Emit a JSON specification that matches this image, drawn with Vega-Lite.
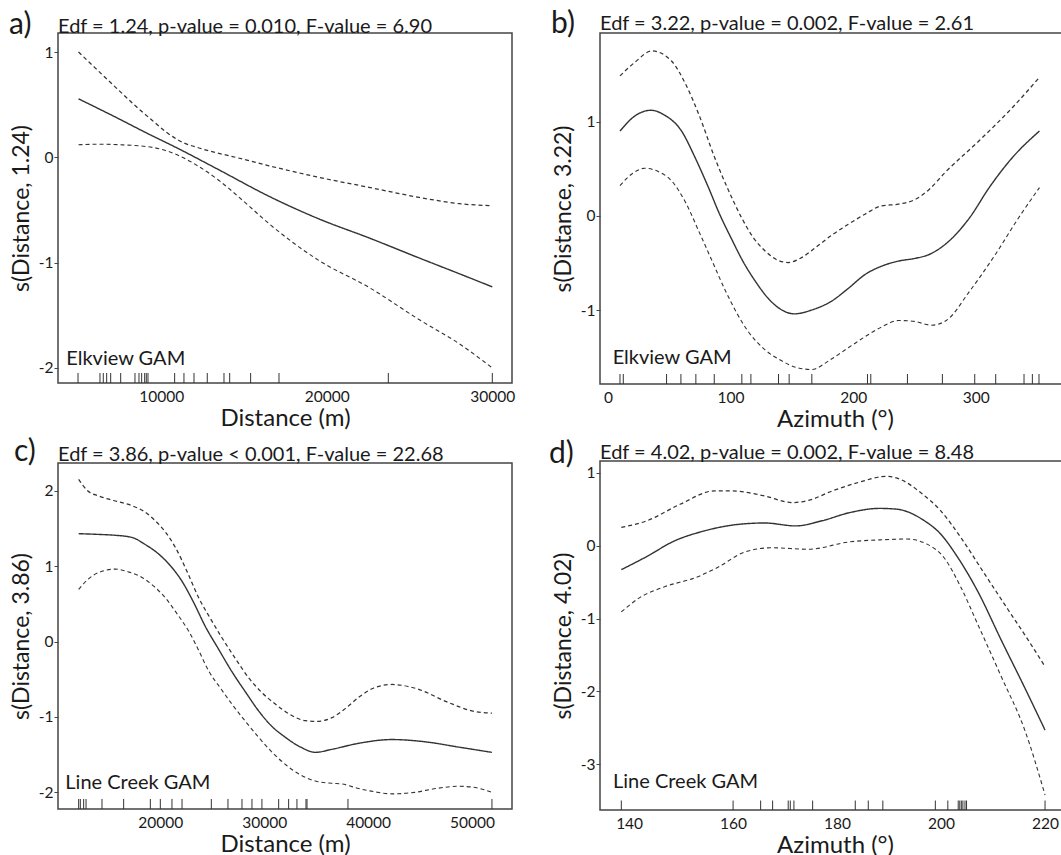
{
  "$schema": "https://vega.github.io/schema/vega-lite/v6.json",
  "padding": {"left": 8, "top": 8, "right": 0, "bottom": 0},
  "background": "white",
  "config": {
    "font": "Lato",
    "view": {"stroke": "#444", "strokeWidth": 1.5},
    "axisY": {"tickSize": 4, "tickColor": "#444", "labelPadding": 1, "labelFontSize": 15.5, "titleFontSize": 23, "titlePadding": 5, "domain": false, "grid": false, "titleFontWeight": "normal", "labelColor": "#1a1a1a", "titleColor": "#1a1a1a", "labelExpr": "toString(datum.value)"},
    "axisX": {"ticks": false, "labelPadding": 6, "labelFontSize": 15.5, "titleFontSize": 24, "titlePadding": 2, "domain": false, "grid": false, "titleFontWeight": "normal", "labelColor": "#1a1a1a", "titleColor": "#1a1a1a", "labelExpr": "toString(datum.value)"},
    "text": {"color": "#1a1a1a"}
  },
  "datasets": {
    "a_curves": [
      {"x": 5000, "y": 0.556, "s": "fit"}, {"x": 7450, "y": 0.365, "s": "fit"}, {"x": 9000, "y": 0.24, "s": "fit"}, {"x": 11070, "y": 0.08, "s": "fit"}, {"x": 13500, "y": -0.12, "s": "fit"}, {"x": 16510, "y": -0.37, "s": "fit"}, {"x": 19530, "y": -0.585, "s": "fit"}, {"x": 22550, "y": -0.765, "s": "fit"}, {"x": 25570, "y": -0.955, "s": "fit"}, {"x": 28000, "y": -1.105, "s": "fit"}, {"x": 30000, "y": -1.23, "s": "fit"},
      {"x": 5000, "y": 1.0, "s": "upper"}, {"x": 6000, "y": 0.85, "s": "upper"}, {"x": 7450, "y": 0.634, "s": "upper"}, {"x": 8500, "y": 0.48, "s": "upper"}, {"x": 9460, "y": 0.35, "s": "upper"}, {"x": 10300, "y": 0.24, "s": "upper"}, {"x": 11070, "y": 0.16, "s": "upper"}, {"x": 12480, "y": 0.08, "s": "upper"}, {"x": 14500, "y": 0.0, "s": "upper"}, {"x": 16510, "y": -0.08, "s": "upper"}, {"x": 19530, "y": -0.19, "s": "upper"}, {"x": 22550, "y": -0.285, "s": "upper"}, {"x": 25570, "y": -0.38, "s": "upper"}, {"x": 28000, "y": -0.44, "s": "upper"}, {"x": 30000, "y": -0.46, "s": "upper"},
      {"x": 5000, "y": 0.12, "s": "lower"}, {"x": 6500, "y": 0.125, "s": "lower"}, {"x": 7450, "y": 0.12, "s": "lower"}, {"x": 9460, "y": 0.095, "s": "lower"}, {"x": 11070, "y": 0.016, "s": "lower"}, {"x": 12300, "y": -0.09, "s": "lower"}, {"x": 13490, "y": -0.22, "s": "lower"}, {"x": 15000, "y": -0.42, "s": "lower"}, {"x": 16510, "y": -0.63, "s": "lower"}, {"x": 19530, "y": -0.98, "s": "lower"}, {"x": 22550, "y": -1.235, "s": "lower"}, {"x": 25570, "y": -1.54, "s": "lower"}, {"x": 28000, "y": -1.77, "s": "lower"}, {"x": 30000, "y": -2.0, "s": "lower"}
    ],
    "a_rug": [{"x": 4970}, {"x": 6296}, {"x": 6496}, {"x": 6700}, {"x": 6943}, {"x": 7547}, {"x": 8411}, {"x": 8653}, {"x": 8815}, {"x": 8996}, {"x": 9094}, {"x": 9196}, {"x": 10808}, {"x": 11370}, {"x": 11976}, {"x": 12779}, {"x": 13789}, {"x": 14133}, {"x": 15399}, {"x": 17112}, {"x": 23717}, {"x": 30000}],
    "b_curves": [
      {"x": 9.8, "y": 0.9, "s": "fit"}, {"x": 22, "y": 1.06, "s": "fit"}, {"x": 35, "y": 1.12, "s": "fit"}, {"x": 46, "y": 1.07, "s": "fit"}, {"x": 60, "y": 0.9, "s": "fit"}, {"x": 71, "y": 0.62, "s": "fit"}, {"x": 82, "y": 0.3, "s": "fit"}, {"x": 91, "y": 0.02, "s": "fit"}, {"x": 101, "y": -0.25, "s": "fit"}, {"x": 110, "y": -0.48, "s": "fit"}, {"x": 120, "y": -0.69, "s": "fit"}, {"x": 131, "y": -0.88, "s": "fit"}, {"x": 142, "y": -1.0, "s": "fit"}, {"x": 152, "y": -1.04, "s": "fit"}, {"x": 166, "y": -1.0, "s": "fit"}, {"x": 183, "y": -0.9, "s": "fit"}, {"x": 196, "y": -0.77, "s": "fit"}, {"x": 210, "y": -0.62, "s": "fit"}, {"x": 224, "y": -0.53, "s": "fit"}, {"x": 237, "y": -0.48, "s": "fit"}, {"x": 251, "y": -0.45, "s": "fit"}, {"x": 262, "y": -0.41, "s": "fit"}, {"x": 278, "y": -0.27, "s": "fit"}, {"x": 295, "y": -0.02, "s": "fit"}, {"x": 311, "y": 0.3, "s": "fit"}, {"x": 330, "y": 0.62, "s": "fit"}, {"x": 352, "y": 0.9, "s": "fit"},
      {"x": 9.8, "y": 1.485, "s": "upper"}, {"x": 22, "y": 1.63, "s": "upper"}, {"x": 36, "y": 1.75, "s": "upper"}, {"x": 52, "y": 1.64, "s": "upper"}, {"x": 64, "y": 1.38, "s": "upper"}, {"x": 74, "y": 1.08, "s": "upper"}, {"x": 87, "y": 0.62, "s": "upper"}, {"x": 98, "y": 0.28, "s": "upper"}, {"x": 109, "y": -0.02, "s": "upper"}, {"x": 118, "y": -0.22, "s": "upper"}, {"x": 128, "y": -0.37, "s": "upper"}, {"x": 137, "y": -0.46, "s": "upper"}, {"x": 147, "y": -0.495, "s": "upper"}, {"x": 157, "y": -0.45, "s": "upper"}, {"x": 169, "y": -0.34, "s": "upper"}, {"x": 182, "y": -0.21, "s": "upper"}, {"x": 196, "y": -0.09, "s": "upper"}, {"x": 210, "y": 0.02, "s": "upper"}, {"x": 223, "y": 0.106, "s": "upper"}, {"x": 237, "y": 0.124, "s": "upper"}, {"x": 250, "y": 0.17, "s": "upper"}, {"x": 262, "y": 0.28, "s": "upper"}, {"x": 275, "y": 0.46, "s": "upper"}, {"x": 303, "y": 0.8, "s": "upper"}, {"x": 330, "y": 1.15, "s": "upper"}, {"x": 352, "y": 1.47, "s": "upper"},
      {"x": 9.8, "y": 0.32, "s": "lower"}, {"x": 20, "y": 0.45, "s": "lower"}, {"x": 30, "y": 0.505, "s": "lower"}, {"x": 41, "y": 0.47, "s": "lower"}, {"x": 52, "y": 0.37, "s": "lower"}, {"x": 63, "y": 0.15, "s": "lower"}, {"x": 74, "y": -0.16, "s": "lower"}, {"x": 85, "y": -0.48, "s": "lower"}, {"x": 96, "y": -0.8, "s": "lower"}, {"x": 114, "y": -1.22, "s": "lower"}, {"x": 128, "y": -1.42, "s": "lower"}, {"x": 142, "y": -1.54, "s": "lower"}, {"x": 154, "y": -1.61, "s": "lower"}, {"x": 166, "y": -1.63, "s": "lower"}, {"x": 181, "y": -1.53, "s": "lower"}, {"x": 196, "y": -1.4, "s": "lower"}, {"x": 210, "y": -1.28, "s": "lower"}, {"x": 223, "y": -1.18, "s": "lower"}, {"x": 237, "y": -1.11, "s": "lower"}, {"x": 250, "y": -1.12, "s": "lower"}, {"x": 264, "y": -1.16, "s": "lower"}, {"x": 276, "y": -1.11, "s": "lower"}, {"x": 295, "y": -0.8, "s": "lower"}, {"x": 316, "y": -0.41, "s": "lower"}, {"x": 335, "y": -0.02, "s": "lower"}, {"x": 352, "y": 0.3, "s": "lower"}
    ],
    "b_rug": [{"x": 9.8}, {"x": 12.5}, {"x": 47.8}, {"x": 59.5}, {"x": 71.7}, {"x": 86.7}, {"x": 109.2}, {"x": 116.6}, {"x": 139.1}, {"x": 147.8}, {"x": 166.3}, {"x": 211.7}, {"x": 214.4}, {"x": 244.3}, {"x": 272.8}, {"x": 299.2}, {"x": 316.3}, {"x": 339.4}, {"x": 346.2}, {"x": 351.6}],
    "c_curves": [
      {"x": 12140, "y": 1.43, "s": "fit"}, {"x": 14060, "y": 1.42, "s": "fit"}, {"x": 15500, "y": 1.41, "s": "fit"}, {"x": 17270, "y": 1.38, "s": "fit"}, {"x": 18500, "y": 1.29, "s": "fit"}, {"x": 19840, "y": 1.16, "s": "fit"}, {"x": 21000, "y": 1.0, "s": "fit"}, {"x": 22080, "y": 0.8, "s": "fit"}, {"x": 23200, "y": 0.52, "s": "fit"}, {"x": 24330, "y": 0.2, "s": "fit"}, {"x": 25600, "y": -0.1, "s": "fit"}, {"x": 26890, "y": -0.4, "s": "fit"}, {"x": 28200, "y": -0.67, "s": "fit"}, {"x": 29460, "y": -0.92, "s": "fit"}, {"x": 30700, "y": -1.12, "s": "fit"}, {"x": 32030, "y": -1.27, "s": "fit"}, {"x": 33500, "y": -1.4, "s": "fit"}, {"x": 34920, "y": -1.47, "s": "fit"}, {"x": 36500, "y": -1.43, "s": "fit"}, {"x": 39090, "y": -1.35, "s": "fit"}, {"x": 42300, "y": -1.3, "s": "fit"}, {"x": 45500, "y": -1.33, "s": "fit"}, {"x": 48710, "y": -1.4, "s": "fit"}, {"x": 51920, "y": -1.47, "s": "fit"},
      {"x": 12140, "y": 2.15, "s": "upper"}, {"x": 13000, "y": 2.0, "s": "upper"}, {"x": 14060, "y": 1.93, "s": "upper"}, {"x": 15500, "y": 1.87, "s": "upper"}, {"x": 17270, "y": 1.8, "s": "upper"}, {"x": 18500, "y": 1.72, "s": "upper"}, {"x": 19520, "y": 1.6, "s": "upper"}, {"x": 20500, "y": 1.45, "s": "upper"}, {"x": 21440, "y": 1.25, "s": "upper"}, {"x": 22600, "y": 0.92, "s": "upper"}, {"x": 23690, "y": 0.58, "s": "upper"}, {"x": 24800, "y": 0.31, "s": "upper"}, {"x": 25930, "y": 0.05, "s": "upper"}, {"x": 27200, "y": -0.22, "s": "upper"}, {"x": 28500, "y": -0.48, "s": "upper"}, {"x": 29800, "y": -0.68, "s": "upper"}, {"x": 31070, "y": -0.83, "s": "upper"}, {"x": 32500, "y": -0.97, "s": "upper"}, {"x": 33960, "y": -1.05, "s": "upper"}, {"x": 35000, "y": -1.06, "s": "upper"}, {"x": 36520, "y": -1.01, "s": "upper"}, {"x": 37800, "y": -0.89, "s": "upper"}, {"x": 39090, "y": -0.74, "s": "upper"}, {"x": 40500, "y": -0.62, "s": "upper"}, {"x": 42300, "y": -0.57, "s": "upper"}, {"x": 44540, "y": -0.62, "s": "upper"}, {"x": 47750, "y": -0.81, "s": "upper"}, {"x": 49990, "y": -0.92, "s": "upper"}, {"x": 51920, "y": -0.95, "s": "upper"},
      {"x": 12140, "y": 0.69, "s": "lower"}, {"x": 13000, "y": 0.82, "s": "lower"}, {"x": 14060, "y": 0.915, "s": "lower"}, {"x": 15670, "y": 0.96, "s": "lower"}, {"x": 17000, "y": 0.92, "s": "lower"}, {"x": 18230, "y": 0.85, "s": "lower"}, {"x": 19400, "y": 0.73, "s": "lower"}, {"x": 20480, "y": 0.58, "s": "lower"}, {"x": 21600, "y": 0.37, "s": "lower"}, {"x": 22720, "y": 0.14, "s": "lower"}, {"x": 23700, "y": -0.12, "s": "lower"}, {"x": 24650, "y": -0.39, "s": "lower"}, {"x": 25800, "y": -0.62, "s": "lower"}, {"x": 26890, "y": -0.83, "s": "lower"}, {"x": 28200, "y": -1.06, "s": "lower"}, {"x": 29460, "y": -1.27, "s": "lower"}, {"x": 30700, "y": -1.46, "s": "lower"}, {"x": 32030, "y": -1.63, "s": "lower"}, {"x": 33500, "y": -1.77, "s": "lower"}, {"x": 34920, "y": -1.85, "s": "lower"}, {"x": 36500, "y": -1.88, "s": "lower"}, {"x": 37500, "y": -1.89, "s": "lower"}, {"x": 39090, "y": -1.95, "s": "lower"}, {"x": 40500, "y": -1.99, "s": "lower"}, {"x": 42300, "y": -2.02, "s": "lower"}, {"x": 44500, "y": -2.0, "s": "lower"}, {"x": 46500, "y": -1.95, "s": "lower"}, {"x": 48700, "y": -1.92, "s": "lower"}, {"x": 50000, "y": -1.93, "s": "lower"}, {"x": 51920, "y": -2.0, "s": "lower"}
    ],
    "c_rug": [{"x": 12140}, {"x": 12300}, {"x": 12620}, {"x": 12850}, {"x": 14385}, {"x": 16470}, {"x": 19040}, {"x": 20000}, {"x": 21120}, {"x": 22090}, {"x": 24910}, {"x": 26510}, {"x": 27860}, {"x": 28820}, {"x": 29780}, {"x": 31390}, {"x": 32350}, {"x": 33150}, {"x": 34020}, {"x": 34120}, {"x": 38060}, {"x": 51920}],
    "d_curves": [
      {"x": 138.5, "y": -0.33, "s": "fit"}, {"x": 143.4, "y": -0.15, "s": "fit"}, {"x": 148.6, "y": 0.06, "s": "fit"}, {"x": 154.4, "y": 0.2, "s": "fit"}, {"x": 160.9, "y": 0.29, "s": "fit"}, {"x": 166.1, "y": 0.31, "s": "fit"}, {"x": 172.0, "y": 0.27, "s": "fit"}, {"x": 177.1, "y": 0.34, "s": "fit"}, {"x": 182.3, "y": 0.45, "s": "fit"}, {"x": 188.2, "y": 0.51, "s": "fit"}, {"x": 191.4, "y": 0.5, "s": "fit"}, {"x": 196.6, "y": 0.35, "s": "fit"}, {"x": 199.9, "y": 0.16, "s": "fit"}, {"x": 203.1, "y": -0.15, "s": "fit"}, {"x": 207.0, "y": -0.62, "s": "fit"}, {"x": 211.6, "y": -1.3, "s": "fit"}, {"x": 216.1, "y": -1.95, "s": "fit"}, {"x": 220, "y": -2.53, "s": "fit"},
      {"x": 138.5, "y": 0.25, "s": "upper"}, {"x": 143.4, "y": 0.34, "s": "upper"}, {"x": 149.9, "y": 0.57, "s": "upper"}, {"x": 156.4, "y": 0.75, "s": "upper"}, {"x": 159.6, "y": 0.75, "s": "upper"}, {"x": 166.1, "y": 0.68, "s": "upper"}, {"x": 171.3, "y": 0.59, "s": "upper"}, {"x": 174.5, "y": 0.62, "s": "upper"}, {"x": 179.1, "y": 0.75, "s": "upper"}, {"x": 184.3, "y": 0.87, "s": "upper"}, {"x": 189.5, "y": 0.95, "s": "upper"}, {"x": 192.1, "y": 0.91, "s": "upper"}, {"x": 196.0, "y": 0.73, "s": "upper"}, {"x": 199.9, "y": 0.48, "s": "upper"}, {"x": 203.8, "y": 0.11, "s": "upper"}, {"x": 208.3, "y": -0.38, "s": "upper"}, {"x": 212.9, "y": -0.88, "s": "upper"}, {"x": 216.8, "y": -1.3, "s": "upper"}, {"x": 220, "y": -1.66, "s": "upper"},
      {"x": 138.5, "y": -0.91, "s": "lower"}, {"x": 142.1, "y": -0.71, "s": "lower"}, {"x": 146.6, "y": -0.57, "s": "lower"}, {"x": 153.1, "y": -0.43, "s": "lower"}, {"x": 157, "y": -0.3, "s": "lower"}, {"x": 162.2, "y": -0.09, "s": "lower"}, {"x": 167.4, "y": -0.03, "s": "lower"}, {"x": 174.5, "y": -0.05, "s": "lower"}, {"x": 182.3, "y": 0.05, "s": "lower"}, {"x": 188.8, "y": 0.08, "s": "lower"}, {"x": 193.4, "y": 0.09, "s": "lower"}, {"x": 197.3, "y": 0.02, "s": "lower"}, {"x": 200.5, "y": -0.16, "s": "lower"}, {"x": 203.8, "y": -0.57, "s": "lower"}, {"x": 207, "y": -1.07, "s": "lower"}, {"x": 211.6, "y": -1.8, "s": "lower"}, {"x": 216.1, "y": -2.53, "s": "lower"}, {"x": 220, "y": -3.42, "s": "lower"}
    ],
    "d_rug": [{"x": 138.5}, {"x": 160}, {"x": 165.3}, {"x": 167.6}, {"x": 170.6}, {"x": 171.0}, {"x": 171.7}, {"x": 175.3}, {"x": 183.5}, {"x": 186.0}, {"x": 188.8}, {"x": 198.9}, {"x": 201.3}, {"x": 203.3}, {"x": 203.6}, {"x": 203.9}, {"x": 204.2}, {"x": 204.6}, {"x": 204.9}, {"x": 220}]
  },
  "spacing": 32,
  "hconcat": [
    {
      "spacing": 4,
      "vconcat": [
        {
          "width": 454, "height": 350,
          "layer": [
            {"data": {"name": "a_curves"}, "mark": {"type": "line", "color": "#333", "interpolate": "monotone", "clip": true},
             "encoding": {
               "x": {"field": "x", "type": "quantitative", "scale": {"domain": [3760, 31190], "nice": false, "zero": false}, "axis": {"values": [10000, 20000, 30000], "title": "Distance (m)"}},
               "y": {"field": "y", "type": "quantitative", "scale": {"domain": [-2.143, 1.181], "nice": false, "zero": false}, "axis": {"values": [-2, -1, 0, 1], "title": "s(Distance, 1.24)"}},
               "strokeDash": {"field": "s", "type": "nominal", "scale": {"domain": ["fit", "upper", "lower"], "range": [[1, 0], [4, 3], [4, 3]]}, "legend": null},
               "strokeWidth": {"field": "s", "type": "nominal", "scale": {"domain": ["fit", "upper", "lower"], "range": [1.4, 1.1, 1.1]}, "legend": null}
             }},
            {"data": {"name": "a_rug"}, "mark": {"type": "rule", "color": "#333", "strokeWidth": 1},
             "encoding": {"x": {"field": "x", "type": "quantitative"}, "y": {"datum": -2.143}, "y2": {"datum": -2.048}}},
            {"data": {"values": [{}]}, "mark": {"type": "text", "align": "left", "baseline": "alphabetic", "fontSize": 20},
             "encoding": {"x": {"datum": 4260}, "y": {"datum": -1.97}, "text": {"value": "Elkview GAM"}}},
            {"data": {"values": [{}]}, "mark": {"type": "text", "align": "left", "baseline": "alphabetic", "fontSize": 20, "dy": 0},
             "encoding": {"x": {"datum": 3760}, "y": {"datum": 1.181}, "text": {"value": "Edf = 1.24, p-value = 0.010, F-value = 6.90"}}},
            {"data": {"values": [{}]}, "mark": {"type": "text", "align": "left", "baseline": "alphabetic", "fontSize": 30, "dx": -49, "dy": 1},
             "encoding": {"x": {"datum": 3760}, "y": {"datum": 1.181}, "text": {"value": "a)"}}}
          ]
        },
        {
          "width": 454, "height": 346,
          "layer": [
            {"data": {"name": "c_curves"}, "mark": {"type": "line", "color": "#333", "interpolate": "monotone", "clip": true},
             "encoding": {
               "x": {"field": "x", "type": "quantitative", "scale": {"domain": [10151, 53850], "nice": false, "zero": false}, "axis": {"values": [20000, 30000, 40000, 50000], "title": "Distance (m)"}},
               "y": {"field": "y", "type": "quantitative", "scale": {"domain": [-2.221, 2.367], "nice": false, "zero": false}, "axis": {"values": [-2, -1, 0, 1, 2], "title": "s(Distance, 3.86)"}},
               "strokeDash": {"field": "s", "type": "nominal", "scale": {"domain": ["fit", "upper", "lower"], "range": [[1, 0], [4, 3], [4, 3]]}, "legend": null},
               "strokeWidth": {"field": "s", "type": "nominal", "scale": {"domain": ["fit", "upper", "lower"], "range": [1.4, 1.1, 1.1]}, "legend": null}
             }},
            {"data": {"name": "c_rug"}, "mark": {"type": "rule", "color": "#333", "strokeWidth": 1},
             "encoding": {"x": {"field": "x", "type": "quantitative"}, "y": {"datum": -2.221}, "y2": {"datum": -2.088}}},
            {"data": {"values": [{}]}, "mark": {"type": "text", "align": "left", "baseline": "alphabetic", "fontSize": 20},
             "encoding": {"x": {"datum": 10857}, "y": {"datum": -1.96}, "text": {"value": "Line Creek GAM"}}},
            {"data": {"values": [{}]}, "mark": {"type": "text", "align": "left", "baseline": "alphabetic", "fontSize": 20, "dy": -2},
             "encoding": {"x": {"datum": 10151}, "y": {"datum": 2.367}, "text": {"value": "Edf = 3.86, p-value < 0.001, F-value = 22.68"}}},
            {"data": {"values": [{}]}, "mark": {"type": "text", "align": "left", "baseline": "alphabetic", "fontSize": 30, "dx": -44, "dy": -2},
             "encoding": {"x": {"datum": 10151}, "y": {"datum": 2.367}, "text": {"value": "c)"}}}
          ]
        }
      ]
    },
    {
      "spacing": 5,
      "vconcat": [
        {
          "width": 470, "height": 351,
          "layer": [
            {"data": {"name": "b_curves"}, "mark": {"type": "line", "color": "#333", "interpolate": "monotone", "clip": true},
             "encoding": {
               "x": {"field": "x", "type": "quantitative", "scale": {"domain": [-6.5, 376.9], "nice": false, "zero": false}, "axis": {"values": [0, 100, 200, 300], "title": "Azimuth (°)"}},
               "y": {"field": "y", "type": "quantitative", "scale": {"domain": [-1.784, 1.94], "nice": false, "zero": false}, "axis": {"values": [-1, 0, 1], "title": "s(Distance, 3.22)"}},
               "strokeDash": {"field": "s", "type": "nominal", "scale": {"domain": ["fit", "upper", "lower"], "range": [[1, 0], [4, 3], [4, 3]]}, "legend": null},
               "strokeWidth": {"field": "s", "type": "nominal", "scale": {"domain": ["fit", "upper", "lower"], "range": [1.4, 1.1, 1.1]}, "legend": null}
             }},
            {"data": {"name": "b_rug"}, "mark": {"type": "rule", "color": "#333", "strokeWidth": 1},
             "encoding": {"x": {"field": "x", "type": "quantitative"}, "y": {"datum": -1.784}, "y2": {"datum": -1.678}}},
            {"data": {"values": [{}]}, "mark": {"type": "text", "align": "left", "baseline": "alphabetic", "fontSize": 20},
             "encoding": {"x": {"datum": 3.8}, "y": {"datum": -1.57}, "text": {"value": "Elkview GAM"}}},
            {"data": {"values": [{}]}, "mark": {"type": "text", "align": "left", "baseline": "alphabetic", "fontSize": 20, "dy": -3},
             "encoding": {"x": {"datum": -6.5}, "y": {"datum": 1.94}, "text": {"value": "Edf = 3.22, p-value = 0.002, F-value = 2.61"}}},
            {"data": {"values": [{}]}, "mark": {"type": "text", "align": "left", "baseline": "alphabetic", "fontSize": 30, "dx": -49, "dy": 0},
             "encoding": {"x": {"datum": -6.5}, "y": {"datum": 1.94}, "text": {"value": "b)"}}}
          ]
        },
        {
          "width": 470, "height": 349,
          "layer": [
            {"data": {"name": "d_curves"}, "mark": {"type": "line", "color": "#333", "interpolate": "monotone", "clip": true},
             "encoding": {
               "x": {"field": "x", "type": "quantitative", "scale": {"domain": [134.4, 224.8], "nice": false, "zero": false}, "axis": {"values": [140, 160, 180, 200, 220], "title": "Azimuth (°)"}},
               "y": {"field": "y", "type": "quantitative", "scale": {"domain": [-3.626, 1.16], "nice": false, "zero": false}, "axis": {"values": [-3, -2, -1, 0, 1], "title": "s(Distance, 4.02)"}},
               "strokeDash": {"field": "s", "type": "nominal", "scale": {"domain": ["fit", "upper", "lower"], "range": [[1, 0], [4, 3], [4, 3]]}, "legend": null},
               "strokeWidth": {"field": "s", "type": "nominal", "scale": {"domain": ["fit", "upper", "lower"], "range": [1.4, 1.1, 1.1]}, "legend": null}
             }},
            {"data": {"name": "d_rug"}, "mark": {"type": "rule", "color": "#333", "strokeWidth": 1},
             "encoding": {"x": {"field": "x", "type": "quantitative"}, "y": {"datum": -3.626}, "y2": {"datum": -3.496}}},
            {"data": {"values": [{}]}, "mark": {"type": "text", "align": "left", "baseline": "alphabetic", "fontSize": 20},
             "encoding": {"x": {"datum": 136.9}, "y": {"datum": -3.32}, "text": {"value": "Line Creek GAM"}}},
            {"data": {"values": [{}]}, "mark": {"type": "text", "align": "left", "baseline": "alphabetic", "fontSize": 20, "dy": -2},
             "encoding": {"x": {"datum": 134.4}, "y": {"datum": 1.16}, "text": {"value": "Edf = 4.02, p-value = 0.002, F-value = 8.48"}}},
            {"data": {"values": [{}]}, "mark": {"type": "text", "align": "left", "baseline": "alphabetic", "fontSize": 30, "dx": -51, "dy": 2},
             "encoding": {"x": {"datum": 134.4}, "y": {"datum": 1.16}, "text": {"value": "d)"}}}
          ]
        }
      ]
    }
  ]
}
